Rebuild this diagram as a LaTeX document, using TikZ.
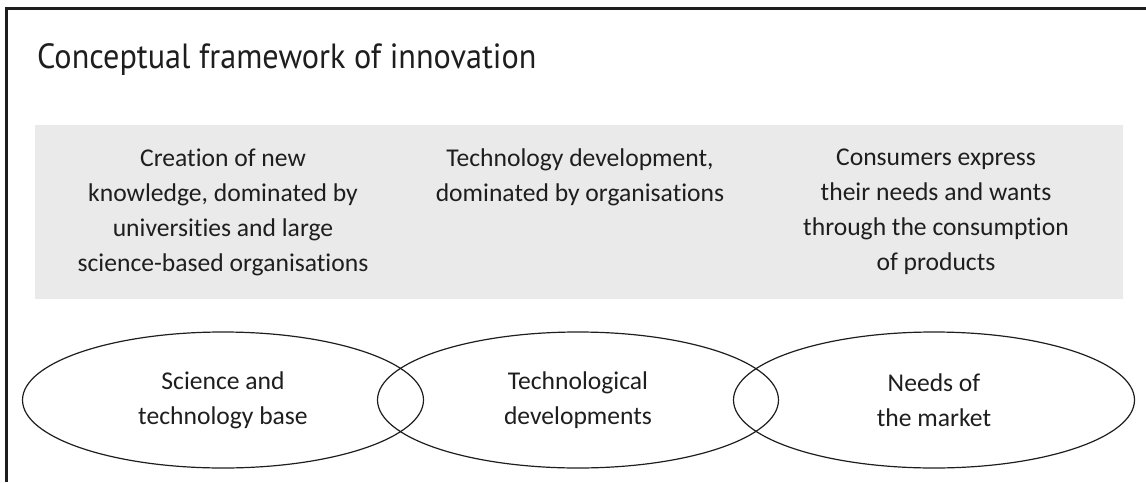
\documentclass[tikz,border=0pt]{standalone}
\usepackage{fontspec}
\setmainfont{Carlito}[Ligatures={NoCommon}]
\newfontfamily\titlefont[FakeStretch=0.92]{PT Sans}
\usetikzlibrary{shapes.geometric}
\definecolor{panelgrey}{HTML}{EAEAEA}
\definecolor{ink}{HTML}{1E1E1E}

\begin{document}
\begin{tikzpicture}[x=1pt,y=-1pt,
  frame/.style={line width=3pt, draw=ink},
  bodyfont/.style={font=\fontsize{25.6}{35}\selectfont},
  paneltext/.style={bodyfont, align=center, text=ink, anchor=north, inner sep=0pt},
  field/.style={ellipse, draw=ink, line width=1.2pt, minimum width=401pt,
    minimum height=136pt, inner sep=0pt, bodyfont, align=center, text=ink},
  heading/.style={font=\titlefont\fontsize{35}{42}\selectfont, text=ink,
    anchor=base west, inner sep=0pt}]
  \useasboundingbox (0,0) rectangle (1146,482);

  % outer frame: top and left edges only
  \draw[frame] (6.5,482) |- (1146,8.5);

  % heading
  \node[heading] (title) at (37,68) {Conceptual framework of innovation};

  % grey panel with the three descriptions
  \fill[panelgrey] (35,125) rectangle (1123,299);
  \node[paneltext] (know) at (223,149)
    {Creation of new\\knowledge, dominated by\\universities and large\\science-based organisations};
  \node[paneltext] (org) at (580,149)
    {Technology development,\\dominated by organisations};
  \node[paneltext] (cons) at (936,149)
    {Consumers express\\their needs and wants\\through the consumption\\of products};

  % three overlapping fields
  \node[field] (base) at (223,400) {Science and\\technology base};
  \node[field] (dev) at (578,400) {Technological\\developments};
  \node[field] (market) at (934,400) {Needs of\\the market};
\end{tikzpicture}
\end{document}
